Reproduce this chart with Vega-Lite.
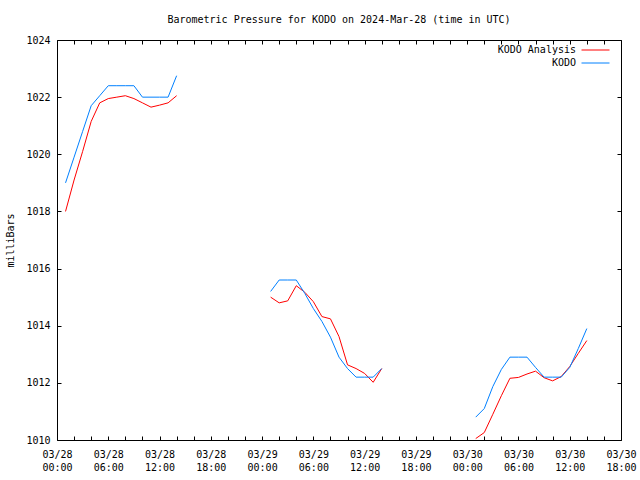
{
  "$schema": "https://vega.github.io/schema/vega-lite/v6.json",
  "width": 564,
  "height": 400,
  "autosize": {"type": "none"},
  "padding": {"left": 57, "top": 40, "right": 19, "bottom": 40},
  "background": "white",
  "title": {"text": "Barometric Pressure for KODO on 2024-Mar-28 (time in UTC)", "font": "DejaVu Sans Mono", "fontSize": 10, "fontWeight": "normal", "color": "black", "anchor": "middle", "frame": "group", "offset": 10},
  "config": {
    "view": {"stroke": "black", "strokeWidth": 1},
    "axis": {"labelFont": "DejaVu Sans Mono", "labelFontSize": 10, "labelColor": "black", "tickColor": "black", "titleFont": "DejaVu Sans Mono", "titleFontSize": 10, "titleFontWeight": "normal", "titleColor": "black", "grid": false, "domain": false}
  },
  "data": {"values": [
    {"t": "2024-03-28T01:00:00Z", "p": 1018.0, "series": "KODO Analysis", "seg": 1},
    {"t": "2024-03-28T02:00:00Z", "p": 1019.1, "series": "KODO Analysis", "seg": 1},
    {"t": "2024-03-28T03:00:00Z", "p": 1020.1, "series": "KODO Analysis", "seg": 1},
    {"t": "2024-03-28T04:00:00Z", "p": 1021.15, "series": "KODO Analysis", "seg": 1},
    {"t": "2024-03-28T05:00:00Z", "p": 1021.8, "series": "KODO Analysis", "seg": 1},
    {"t": "2024-03-28T06:00:00Z", "p": 1021.95, "series": "KODO Analysis", "seg": 1},
    {"t": "2024-03-28T07:00:00Z", "p": 1022.0, "series": "KODO Analysis", "seg": 1},
    {"t": "2024-03-28T08:00:00Z", "p": 1022.05, "series": "KODO Analysis", "seg": 1},
    {"t": "2024-03-28T09:00:00Z", "p": 1021.95, "series": "KODO Analysis", "seg": 1},
    {"t": "2024-03-28T10:00:00Z", "p": 1021.8, "series": "KODO Analysis", "seg": 1},
    {"t": "2024-03-28T11:00:00Z", "p": 1021.65, "series": "KODO Analysis", "seg": 1},
    {"t": "2024-03-28T12:00:00Z", "p": 1021.72, "series": "KODO Analysis", "seg": 1},
    {"t": "2024-03-28T13:00:00Z", "p": 1021.8, "series": "KODO Analysis", "seg": 1},
    {"t": "2024-03-28T14:00:00Z", "p": 1022.05, "series": "KODO Analysis", "seg": 1},
    {"t": "2024-03-29T01:00:00Z", "p": 1015.0, "series": "KODO Analysis", "seg": 2},
    {"t": "2024-03-29T02:00:00Z", "p": 1014.8, "series": "KODO Analysis", "seg": 2},
    {"t": "2024-03-29T03:00:00Z", "p": 1014.87, "series": "KODO Analysis", "seg": 2},
    {"t": "2024-03-29T04:00:00Z", "p": 1015.4, "series": "KODO Analysis", "seg": 2},
    {"t": "2024-03-29T05:00:00Z", "p": 1015.17, "series": "KODO Analysis", "seg": 2},
    {"t": "2024-03-29T06:00:00Z", "p": 1014.84, "series": "KODO Analysis", "seg": 2},
    {"t": "2024-03-29T07:00:00Z", "p": 1014.32, "series": "KODO Analysis", "seg": 2},
    {"t": "2024-03-29T08:00:00Z", "p": 1014.24, "series": "KODO Analysis", "seg": 2},
    {"t": "2024-03-29T09:00:00Z", "p": 1013.62, "series": "KODO Analysis", "seg": 2},
    {"t": "2024-03-29T10:00:00Z", "p": 1012.63, "series": "KODO Analysis", "seg": 2},
    {"t": "2024-03-29T11:00:00Z", "p": 1012.5, "series": "KODO Analysis", "seg": 2},
    {"t": "2024-03-29T12:00:00Z", "p": 1012.33, "series": "KODO Analysis", "seg": 2},
    {"t": "2024-03-29T13:00:00Z", "p": 1012.02, "series": "KODO Analysis", "seg": 2},
    {"t": "2024-03-29T14:00:00Z", "p": 1012.5, "series": "KODO Analysis", "seg": 2},
    {"t": "2024-03-30T01:00:00Z", "p": 1010.05, "series": "KODO Analysis", "seg": 3},
    {"t": "2024-03-30T02:00:00Z", "p": 1010.26, "series": "KODO Analysis", "seg": 3},
    {"t": "2024-03-30T03:00:00Z", "p": 1010.9, "series": "KODO Analysis", "seg": 3},
    {"t": "2024-03-30T04:00:00Z", "p": 1011.55, "series": "KODO Analysis", "seg": 3},
    {"t": "2024-03-30T05:00:00Z", "p": 1012.16, "series": "KODO Analysis", "seg": 3},
    {"t": "2024-03-30T06:00:00Z", "p": 1012.19, "series": "KODO Analysis", "seg": 3},
    {"t": "2024-03-30T07:00:00Z", "p": 1012.31, "series": "KODO Analysis", "seg": 3},
    {"t": "2024-03-30T08:00:00Z", "p": 1012.41, "series": "KODO Analysis", "seg": 3},
    {"t": "2024-03-30T09:00:00Z", "p": 1012.18, "series": "KODO Analysis", "seg": 3},
    {"t": "2024-03-30T10:00:00Z", "p": 1012.07, "series": "KODO Analysis", "seg": 3},
    {"t": "2024-03-30T11:00:00Z", "p": 1012.22, "series": "KODO Analysis", "seg": 3},
    {"t": "2024-03-30T12:00:00Z", "p": 1012.57, "series": "KODO Analysis", "seg": 3},
    {"t": "2024-03-30T13:00:00Z", "p": 1013.03, "series": "KODO Analysis", "seg": 3},
    {"t": "2024-03-30T14:00:00Z", "p": 1013.48, "series": "KODO Analysis", "seg": 3},
    {"t": "2024-03-28T01:00:00Z", "p": 1019.0, "series": "KODO", "seg": 1},
    {"t": "2024-03-28T02:00:00Z", "p": 1019.9, "series": "KODO", "seg": 1},
    {"t": "2024-03-28T03:00:00Z", "p": 1020.8, "series": "KODO", "seg": 1},
    {"t": "2024-03-28T04:00:00Z", "p": 1021.7, "series": "KODO", "seg": 1},
    {"t": "2024-03-28T05:00:00Z", "p": 1022.05, "series": "KODO", "seg": 1},
    {"t": "2024-03-28T06:00:00Z", "p": 1022.4, "series": "KODO", "seg": 1},
    {"t": "2024-03-28T07:00:00Z", "p": 1022.4, "series": "KODO", "seg": 1},
    {"t": "2024-03-28T08:00:00Z", "p": 1022.4, "series": "KODO", "seg": 1},
    {"t": "2024-03-28T09:00:00Z", "p": 1022.4, "series": "KODO", "seg": 1},
    {"t": "2024-03-28T10:00:00Z", "p": 1022.0, "series": "KODO", "seg": 1},
    {"t": "2024-03-28T11:00:00Z", "p": 1022.0, "series": "KODO", "seg": 1},
    {"t": "2024-03-28T12:00:00Z", "p": 1022.0, "series": "KODO", "seg": 1},
    {"t": "2024-03-28T13:00:00Z", "p": 1022.0, "series": "KODO", "seg": 1},
    {"t": "2024-03-28T14:00:00Z", "p": 1022.75, "series": "KODO", "seg": 1},
    {"t": "2024-03-29T01:00:00Z", "p": 1015.2, "series": "KODO", "seg": 2},
    {"t": "2024-03-29T02:00:00Z", "p": 1015.6, "series": "KODO", "seg": 2},
    {"t": "2024-03-29T03:00:00Z", "p": 1015.6, "series": "KODO", "seg": 2},
    {"t": "2024-03-29T04:00:00Z", "p": 1015.6, "series": "KODO", "seg": 2},
    {"t": "2024-03-29T05:00:00Z", "p": 1015.13, "series": "KODO", "seg": 2},
    {"t": "2024-03-29T06:00:00Z", "p": 1014.6, "series": "KODO", "seg": 2},
    {"t": "2024-03-29T07:00:00Z", "p": 1014.15, "series": "KODO", "seg": 2},
    {"t": "2024-03-29T08:00:00Z", "p": 1013.6, "series": "KODO", "seg": 2},
    {"t": "2024-03-29T09:00:00Z", "p": 1012.9, "series": "KODO", "seg": 2},
    {"t": "2024-03-29T10:00:00Z", "p": 1012.5, "series": "KODO", "seg": 2},
    {"t": "2024-03-29T11:00:00Z", "p": 1012.2, "series": "KODO", "seg": 2},
    {"t": "2024-03-29T12:00:00Z", "p": 1012.2, "series": "KODO", "seg": 2},
    {"t": "2024-03-29T13:00:00Z", "p": 1012.2, "series": "KODO", "seg": 2},
    {"t": "2024-03-29T14:00:00Z", "p": 1012.5, "series": "KODO", "seg": 2},
    {"t": "2024-03-30T01:00:00Z", "p": 1010.8, "series": "KODO", "seg": 3},
    {"t": "2024-03-30T02:00:00Z", "p": 1011.1, "series": "KODO", "seg": 3},
    {"t": "2024-03-30T03:00:00Z", "p": 1011.87, "series": "KODO", "seg": 3},
    {"t": "2024-03-30T04:00:00Z", "p": 1012.47, "series": "KODO", "seg": 3},
    {"t": "2024-03-30T05:00:00Z", "p": 1012.9, "series": "KODO", "seg": 3},
    {"t": "2024-03-30T06:00:00Z", "p": 1012.9, "series": "KODO", "seg": 3},
    {"t": "2024-03-30T07:00:00Z", "p": 1012.9, "series": "KODO", "seg": 3},
    {"t": "2024-03-30T08:00:00Z", "p": 1012.54, "series": "KODO", "seg": 3},
    {"t": "2024-03-30T09:00:00Z", "p": 1012.2, "series": "KODO", "seg": 3},
    {"t": "2024-03-30T10:00:00Z", "p": 1012.2, "series": "KODO", "seg": 3},
    {"t": "2024-03-30T11:00:00Z", "p": 1012.2, "series": "KODO", "seg": 3},
    {"t": "2024-03-30T12:00:00Z", "p": 1012.54, "series": "KODO", "seg": 3},
    {"t": "2024-03-30T13:00:00Z", "p": 1013.2, "series": "KODO", "seg": 3},
    {"t": "2024-03-30T14:00:00Z", "p": 1013.9, "series": "KODO", "seg": 3}
  ]},
  "layer": [
    {
      "transform": [{"filter": "datum.series == 'KODO Analysis'"}],
      "mark": {"type": "line", "strokeWidth": 1, "clip": true},
      "encoding": {
        "x": {"field": "t", "type": "temporal",
          "scale": {"type": "utc", "domain": [1711584000000, 1711821600000], "nice": false},
          "axis": {"orient": "bottom", "title": null,
            "values": [1711584000000, 1711591200000, 1711598400000, 1711605600000, 1711612800000, 1711620000000, 1711627200000, 1711634400000, 1711641600000, 1711648800000, 1711656000000, 1711663200000, 1711670400000, 1711677600000, 1711684800000, 1711692000000, 1711699200000, 1711706400000, 1711713600000, 1711720800000, 1711728000000, 1711735200000, 1711742400000, 1711749600000, 1711756800000, 1711764000000, 1711771200000, 1711778400000, 1711785600000, 1711792800000, 1711800000000, 1711807200000, 1711814400000, 1711821600000],
            "labelExpr": "utchours(datum.value) % 6 == 0 ? [utcFormat(datum.value, '%m/%d'), utcFormat(datum.value, '%H:%M')] : ''",
            "labelOverlap": false, "labelFlush": false, "tickSize": -4, "labelPadding": 13, "labelLineHeight": 13}},
        "y": {"field": "p", "type": "quantitative",
          "scale": {"domain": [1010, 1024], "nice": false, "zero": false},
          "axis": {"orient": "left", "title": "milliBars", "format": "d", "values": [1010, 1012, 1014, 1016, 1018, 1020, 1022, 1024], "tickSize": -4, "labelPadding": 11, "titlePadding": 10}},
        "color": {"field": "series", "type": "nominal",
          "scale": {"domain": ["KODO Analysis", "KODO"], "range": ["#ff0000", "#0080ff"]},
          "legend": {"orient": "none", "legendX": 533, "legendY": 4.5, "title": null, "labelAlign": "right", "labelOffset": -25, "symbolType": "M-2.8,0H2.8", "symbolSize": 100, "symbolStrokeWidth": 1, "symbolFillColor": "transparent", "symbolOpacity": 1, "rowPadding": 2, "padding": 0, "labelFont": "DejaVu Sans Mono", "labelFontSize": 10, "labelColor": "black"}},
        "detail": {"field": "seg"}
      }
    },
    {
      "transform": [{"filter": "datum.series == 'KODO'"}],
      "mark": {"type": "line", "strokeWidth": 1, "clip": true},
      "encoding": {
        "x": {"field": "t", "type": "temporal",
          "axis": {"orient": "top", "title": null, "labels": false,
            "values": [1711584000000, 1711591200000, 1711598400000, 1711605600000, 1711612800000, 1711620000000, 1711627200000, 1711634400000, 1711641600000, 1711648800000, 1711656000000, 1711663200000, 1711670400000, 1711677600000, 1711684800000, 1711692000000, 1711699200000, 1711706400000, 1711713600000, 1711720800000, 1711728000000, 1711735200000, 1711742400000, 1711749600000, 1711756800000, 1711764000000, 1711771200000, 1711778400000, 1711785600000, 1711792800000, 1711800000000, 1711807200000, 1711814400000, 1711821600000],
            "tickSize": -4}},
        "y": {"field": "p", "type": "quantitative",
          "axis": {"orient": "right", "title": null, "labels": false, "values": [1010, 1012, 1014, 1016, 1018, 1020, 1022, 1024], "tickSize": -4}},
        "color": {"field": "series", "type": "nominal"},
        "detail": {"field": "seg"}
      }
    }
  ],
  "resolve": {"axis": {"x": "independent", "y": "independent"}}
}
